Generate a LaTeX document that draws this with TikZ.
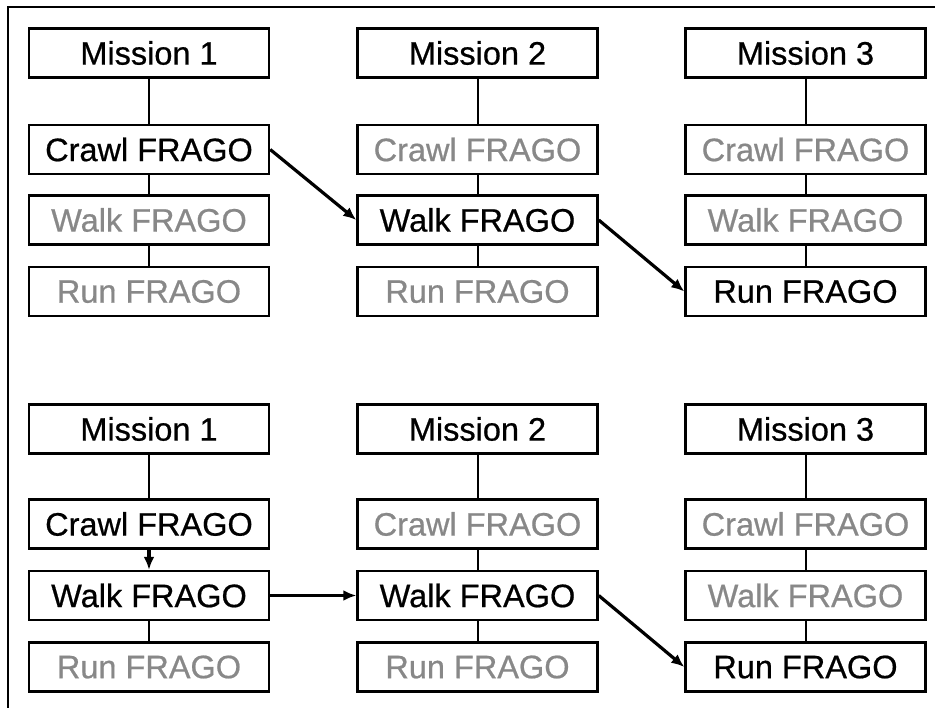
\documentclass[tikz,border=0pt]{standalone}
\usepackage{fontspec}
\setmainfont{Liberation Sans}
\newfontfamily\boxfont{Liberation Sans}[FakeBold=0.6]
\usetikzlibrary{arrows.meta}
\definecolor{inactive}{HTML}{888888}
\begin{document}
\begin{tikzpicture}[x=1pt,y=-1pt,
  box/.style={draw=black,line width=2.4pt,fill=white,minimum width=240pt,
    minimum height=49pt,inner sep=0pt,font=\boxfont\fontsize{32.5}{32.5}\selectfont},
  on/.style={box,text=black},
  off/.style={box,text=inactive},
  link/.style={line width=2pt},
  flow/.style={line width=3.2pt,-{Latex[length=13pt,width=11pt]}}]
\useasboundingbox (0,0) rectangle (935,708);
\clip (0,0) rectangle (935,708);
\fill[white] (0,0) rectangle (935,708);
% outer frame
\draw[line width=2.2pt] (8,7) rectangle (950,725);

% ---- upper panel ----
\node[on]  (a1m) at (149,53)    {Mission 1};
\node[on]  (a1c) at (149,149.5) {Crawl FRAGO};
\node[off] (a1w) at (149,220)   {Walk FRAGO};
\node[off] (a1r) at (149,291.5) {Run FRAGO};

\node[on]  (a2m) at (477.5,53)    {Mission 2};
\node[off] (a2c) at (477.5,149.5) {Crawl FRAGO};
\node[on]  (a2w) at (477.5,220)   {Walk FRAGO};
\node[off] (a2r) at (477.5,291.5) {Run FRAGO};

\node[on]  (a3m) at (805.5,53)    {Mission 3};
\node[off] (a3c) at (805.5,149.5) {Crawl FRAGO};
\node[off] (a3w) at (805.5,220)   {Walk FRAGO};
\node[on]  (a3r) at (805.5,291.5) {Run FRAGO};

\foreach \c in {1,2,3}{
  \draw[link] (a\c m) -- (a\c c);
  \draw[link] (a\c c) -- (a\c w);
  \draw[link] (a\c w) -- (a\c r);
}
\draw[flow] (a1c.east) -- (a2w.west);
\draw[flow] (a2w.east) -- (a3r.west);

% ---- lower panel ----
\node[on]  (b1m) at (149,429)   {Mission 1};
\node[on]  (b1c) at (149,524)   {Crawl FRAGO};
\node[on]  (b1w) at (149,595.5) {Walk FRAGO};
\node[off] (b1r) at (149,667)   {Run FRAGO};

\node[on]  (b2m) at (477.5,429)   {Mission 2};
\node[off] (b2c) at (477.5,524)   {Crawl FRAGO};
\node[on]  (b2w) at (477.5,595.5) {Walk FRAGO};
\node[off] (b2r) at (477.5,667)   {Run FRAGO};

\node[on]  (b3m) at (805.5,429)   {Mission 3};
\node[off] (b3c) at (805.5,524)   {Crawl FRAGO};
\node[off] (b3w) at (805.5,595.5) {Walk FRAGO};
\node[on]  (b3r) at (805.5,667)   {Run FRAGO};

\draw[link] (b1m) -- (b1c);
\draw[flow] (b1c) -- (b1w);
\draw[link] (b1w) -- (b1r);
\foreach \c in {2,3}{
  \draw[link] (b\c m) -- (b\c c);
  \draw[link] (b\c c) -- (b\c w);
  \draw[link] (b\c w) -- (b\c r);
}
\draw[flow] (b1w.east) -- (b2w.west);
\draw[flow] (b2w.east) -- (b3r.west);
\end{tikzpicture}
\end{document}
